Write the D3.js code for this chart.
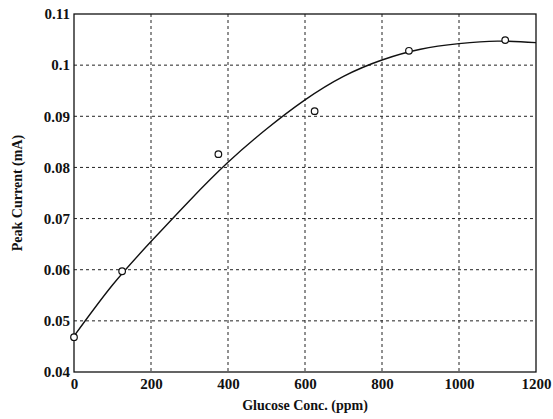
<!DOCTYPE html>
<html>
<head>
<meta charset="utf-8">
<script src="https://cdn.jsdelivr.net/npm/d3@7"></script>
<style>
  body { margin: 0; background: #fff; }
  text { font-family: "Liberation Serif", "DejaVu Serif", serif; font-weight: bold; fill: #111; }
</style>
</head>
<body>
<div id="chart"></div>
<script>
// measured points
var glucose = [0, 125, 375, 625, 870, 1120];
var current = [0.0468, 0.0597, 0.0826, 0.0910, 0.1028, 0.1049];

// fitted curve
var fitX = [0, 100, 200, 300, 400, 500, 600, 700, 800, 900, 1000, 1100, 1200];
var fitY = [0.0470, 0.0570, 0.0655, 0.0735, 0.0810, 0.0875, 0.0932, 0.0978, 0.1010, 0.1031, 0.1042, 0.1047, 0.1044];

var xTicks = [0, 200, 400, 600, 800, 1000, 1200];
var yTicks = [0.04, 0.05, 0.06, 0.07, 0.08, 0.09, 0.1, 0.11];

var svgWidth = 553;
var svgHeight = 419;
var margin = { top: 14, right: 17, bottom: 47, left: 74 };
var width = svgWidth - margin.left - margin.right;
var height = svgHeight - margin.top - margin.bottom;

var svg = d3.select("#chart")
  .append("svg")
  .attr("width", svgWidth)
  .attr("height", svgHeight);

var chartGroup = svg.append("g")
  .attr("transform", `translate(${margin.left}, ${margin.top})`);

var xScale = d3.scaleLinear().domain([0, 1200]).range([0, width]);
var yScale = d3.scaleLinear().domain([0.04, 0.11]).range([height, 0]);

// dashed grid
chartGroup.selectAll(".vgrid")
  .data(xTicks.slice(1, -1))
  .enter()
  .append("line")
  .attr("x1", d => xScale(d)).attr("x2", d => xScale(d))
  .attr("y1", 0).attr("y2", height)
  .attr("stroke", "#222")
  .attr("stroke-width", 1)
  .attr("stroke-dasharray", "3,3");

chartGroup.selectAll(".hgrid")
  .data(yTicks.slice(1, -1))
  .enter()
  .append("line")
  .attr("x1", 0).attr("x2", width)
  .attr("y1", d => yScale(d)).attr("y2", d => yScale(d))
  .attr("stroke", "#222")
  .attr("stroke-width", 1)
  .attr("stroke-dasharray", "3,3");

// axes
var bottomAxis = d3.axisBottom(xScale).tickValues(xTicks).tickSize(0).tickPadding(6)
  .tickFormat(d3.format("d"));
var leftAxis = d3.axisLeft(yScale).tickValues(yTicks).tickSize(0).tickPadding(4)
  .tickFormat(d => d3.format(".2~f")(d));

chartGroup.append("g")
  .attr("transform", `translate(0, ${height})`)
  .call(bottomAxis)
  .call(g => g.select(".domain").remove())
  .selectAll("text")
  .attr("font-size", "15px")
  .attr("fill", "#111");

chartGroup.append("g")
  .call(leftAxis)
  .call(g => g.select(".domain").remove())
  .selectAll("text")
  .attr("font-size", "15px")
  .attr("fill", "#111");

// frame
chartGroup.append("rect")
  .attr("x", 0).attr("y", 0)
  .attr("width", width).attr("height", height)
  .attr("fill", "none")
  .attr("stroke", "#111")
  .attr("stroke-width", 1.3);

// fit curve
var fitData = fitX.map((x, i) => ({ x: x, y: fitY[i] }));
var line = d3.line()
  .x(d => xScale(d.x))
  .y(d => yScale(d.y))
  .curve(d3.curveNatural);

chartGroup.append("path")
  .datum(fitData)
  .attr("d", line)
  .attr("fill", "none")
  .attr("stroke", "#111")
  .attr("stroke-width", 1.4);

// points
var pts = glucose.map((x, i) => ({ x: x, y: current[i] }));
chartGroup.selectAll("circle")
  .data(pts)
  .enter()
  .append("circle")
  .attr("cx", d => xScale(d.x))
  .attr("cy", d => yScale(d.y))
  .attr("r", 3.3)
  .attr("fill", "#fff")
  .attr("stroke", "#111")
  .attr("stroke-width", 1.2);

// axis titles
svg.append("text")
  .attr("x", margin.left + width / 2)
  .attr("y", 410)
  .attr("text-anchor", "middle")
  .attr("font-size", "14px")
  .text("Glucose Conc. (ppm)");

svg.append("text")
  .attr("transform", "rotate(-90)")
  .attr("x", -(margin.top + height / 2))
  .attr("y", 22)
  .attr("text-anchor", "middle")
  .attr("font-size", "14px")
  .text("Peak Current (mA)");
</script>
</body>
</html>
